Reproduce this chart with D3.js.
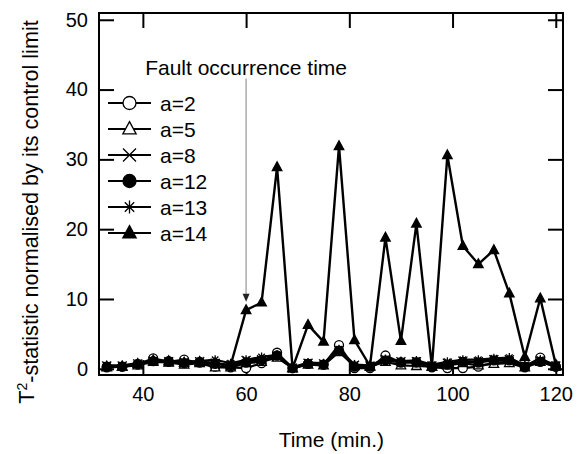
<!DOCTYPE html>
<html>
<head>
<meta charset="utf-8">
<script src="https://cdn.jsdelivr.net/npm/d3@7"></script>
<style>
    body { margin: 0; background: #fff; }
    text { font-family: "Liberation Sans", Arial, Helvetica, sans-serif; fill: #000; }
</style>
</head>
<body>
<svg id="chart" width="582" height="454"></svg>
<script>
// sampling times (min.)
const times = [33, 36, 39, 42, 45, 48, 51, 54, 57, 60, 63, 66, 69, 72, 75,
    78, 81, 84, 87, 90, 93, 96, 99, 102, 105, 108, 111, 114, 117, 120];

// T2 normalised by control limit, one array per number of components
const a2 = [0.2, 0.3, 0.6, 1.5, 1.0, 1.3, 0.9, 0.3, 0.2, 0.1, 0.8, 2.3, 0.1, 0.7, 0.6,
    3.4, 0.1, 0.1, 1.9, 0.9, 0.9, 0.2, 0.1, 0.1, 0.3, 0.9, 1.0, 0.3, 1.6, 0.3];
const a5 = [0.2, 0.3, 0.5, 1.0, 0.9, 0.6, 0.8, 0.2, 0.2, 0.8, 1.0, 1.6, 0.1, 0.6, 0.5,
    2.4, 0.4, 0.3, 1.0, 0.5, 0.4, 0.3, 0.5, 0.8, 0.5, 0.7, 0.8, 0.2, 1.0, 0.3];
const a8 = [0.4, 0.4, 0.7, 1.1, 1.0, 0.9, 1.0, 0.8, 0.5, 1.2, 1.3, 1.8, 0.1, 0.8, 0.7,
    2.6, 0.5, 0.4, 1.3, 1.0, 1.0, 0.4, 0.8, 1.1, 1.0, 1.3, 1.3, 0.4, 1.1, 0.4];
const a12 = [0.3, 0.3, 0.7, 1.1, 1.1, 0.8, 1.0, 0.7, 0.4, 0.9, 1.2, 1.9, 0.1, 0.7, 0.6,
    2.6, 0.3, 0.3, 1.2, 0.9, 0.9, 0.3, 0.6, 1.0, 0.9, 1.2, 1.2, 0.2, 1.0, 0.3];
const a13 = [0.5, 0.5, 0.8, 1.2, 1.1, 1.0, 1.1, 1.3, 0.8, 1.3, 1.7, 2.0, 0.2, 0.9, 0.8,
    2.8, 0.6, 0.5, 1.4, 1.1, 1.2, 0.6, 1.0, 1.3, 1.3, 1.5, 1.6, 0.5, 1.3, 0.6];
const a14 = [0.3, 0.3, 0.7, 1.2, 1.1, 0.9, 1.0, 0.8, 0.5, 8.4, 9.5, 28.9, 0.1, 6.3, 3.9,
    31.9, 4.1, 0.4, 18.8, 4.0, 20.8, 0.3, 30.6, 17.6, 15.0, 17.0, 10.8, 1.7, 10.1, 0.6];

const seriesNames = ['a=2', 'a=5', 'a=8', 'a=12', 'a=13', 'a=14'];
const seriesValues = [a2, a5, a8, a12, a13, a14];
const seriesMarkers = ['circle', 'triangle', 'times', 'dot', 'asterisk', 'filledTriangle'];

const xTicks = [40, 60, 80, 100, 120];
const yTicks = [0, 10, 20, 30, 40, 50];

const faultTime = 60;
const faultLabel = 'Fault occurrence time';

const margin = { top: 13, left: 99, bottom: 79, right: 19 };
const width = 582;
const height = 454;
const chartWidth = width - margin.left - margin.right;
const chartHeight = height - margin.top - margin.bottom;

const svg = d3.select('#chart');

const x = d3.scaleLinear()
    .domain([31.5, 121.4])
    .range([0, chartWidth]);

const y = d3.scaleLinear()
    .domain([-0.89, 50.97])
    .range([chartHeight, 0]);

const g = svg.append('g')
    .attr('transform', `translate(${[margin.left, margin.top]})`);

// marker path builders, r = half size
function markerPath(type, r) {
    const p = d3.path();
    switch (type) {
    case 'circle':
    case 'dot':
        p.arc(0, 0, r, 0, 2 * Math.PI);
        break;
    case 'triangle':
    case 'filledTriangle':
        p.moveTo(0, -r * 1.05);
        p.lineTo(r * 0.95, r * 0.7);
        p.lineTo(-r * 0.95, r * 0.7);
        p.closePath();
        break;
    case 'times':
        p.moveTo(-r, -r); p.lineTo(r, r);
        p.moveTo(-r, r); p.lineTo(r, -r);
        break;
    default: // asterisk: plus and times
        p.moveTo(-r, 0); p.lineTo(r, 0);
        p.moveTo(0, -r); p.lineTo(0, r);
        p.moveTo(-r * 0.72, -r * 0.72); p.lineTo(r * 0.72, r * 0.72);
        p.moveTo(-r * 0.72, r * 0.72); p.lineTo(r * 0.72, -r * 0.72);
    }
    return p.toString();
}

function markerFill(type) {
    if (type === 'dot' || type === 'filledTriangle') return '#000';
    if (type === 'times' || type === 'asterisk') return 'none';
    return '#fff';
}

// axes with inward ticks on all sides
const xAxe = d3.axisBottom(x)
    .tickValues(xTicks)
    .tickSizeInner(-15)
    .tickSizeOuter(0)
    .tickPadding(12);

const yAxe = d3.axisLeft(y)
    .tickValues(yTicks)
    .tickSizeInner(-15)
    .tickSizeOuter(0)
    .tickPadding(11);

function styleAxe(sel) {
    sel.select('.domain').remove();
    sel.selectAll('line').attr('stroke', '#000').attr('stroke-width', 2);
    sel.selectAll('text')
        .style('font-size', '20px')
        .style('font-family', '"Liberation Sans", Arial, sans-serif');
}

g.append('g')
    .attr('transform', `translate(0, ${chartHeight})`)
    .call(xAxe)
    .call(styleAxe);

g.append('g')
    .call(yAxe)
    .call(styleAxe);

g.append('g')
    .call(d3.axisTop(x).tickValues(xTicks).tickSizeInner(-15).tickSizeOuter(0).tickFormat(''))
    .call(styleAxe);

g.append('g')
    .attr('transform', `translate(${chartWidth}, 0)`)
    .call(d3.axisRight(y).tickValues(yTicks).tickSizeInner(-15).tickSizeOuter(0).tickFormat(''))
    .call(styleAxe);

// clipped plotting area
svg.append('defs').append('clipPath')
    .attr('id', 'plot-clip')
    .append('rect')
    .attr('width', chartWidth)
    .attr('height', chartHeight);

const plot = g.append('g').attr('clip-path', 'url(#plot-clip)');

const line = d3.line()
    .x((d, i) => x(times[i]))
    .y(d => y(d));

seriesValues.forEach((values, si) => {
    const type = seriesMarkers[si];
    plot.append('path')
        .datum(values)
        .attr('fill', 'none')
        .attr('stroke', '#000')
        .attr('stroke-width', si === 5 ? 2.4 : 2.2)
        .attr('stroke-linejoin', 'round')
        .attr('d', line);

    plot.selectAll(null)
        .data(values)
        .enter()
        .append('path')
        .attr('transform', (d, i) => `translate(${[x(times[i]), y(d)]})`)
        .attr('d', markerPath(type, type.includes('riangle') ? 5 : 4.5))
        .attr('fill', markerFill(type))
        .attr('stroke', '#000')
        .attr('stroke-width', 1.3);
});

// fault occurrence annotation
const fx = x(faultTime);
g.append('line')
    .attr('x1', fx)
    .attr('x2', fx)
    .attr('y1', y(41.6))
    .attr('y2', y(10.2))
    .attr('stroke', '#aaa')
    .attr('stroke-width', 1.5);

g.append('path')
    .attr('transform', `translate(${[fx, y(9.6)]})`)
    .attr('d', 'M0,0L-3.5,-8L3.5,-8Z')
    .attr('fill', '#222');

g.append('text')
    .attr('x', fx)
    .attr('y', y(42.1))
    .attr('text-anchor', 'middle')
    .style('font-size', '21px')
    .text(faultLabel);

// frame
g.append('rect')
    .attr('width', chartWidth)
    .attr('height', chartHeight)
    .attr('fill', 'none')
    .attr('stroke', '#000')
    .attr('stroke-width', 2);

// legend
const legend = g.append('g')
    .attr('transform', 'translate(9, 90)');

seriesNames.forEach((name, i) => {
    const type = seriesMarkers[i];
    const row = legend.append('g')
        .attr('transform', `translate(0, ${i * 26})`);
    row.append('line')
        .attr('x1', 0)
        .attr('x2', 43)
        .attr('stroke', '#000')
        .attr('stroke-width', 2);
    row.append('path')
        .attr('transform', 'translate(21.5, 0)')
        .attr('d', markerPath(type, type.includes('riangle') ? 7 : 6.5))
        .attr('fill', markerFill(type))
        .attr('stroke', '#000')
        .attr('stroke-width', 1.3);
    row.append('text')
        .attr('x', 52)
        .attr('dy', '0.36em')
        .style('font-size', '21px')
        .text(name);
});

// axis titles
svg.append('text')
    .attr('x', margin.left + x(80) - 18)
    .attr('y', 447)
    .attr('text-anchor', 'middle')
    .style('font-size', '21px')
    .text('Time (min.)');

const yTitle = svg.append('text')
    .attr('transform', `translate(34, ${margin.top + chartHeight / 2 + 18}) rotate(-90)`)
    .attr('text-anchor', 'middle')
    .style('font-size', '21.6px');
yTitle.append('tspan').text('T');
yTitle.append('tspan').attr('dy', '-0.5em').style('font-size', '14px').text('2');
yTitle.append('tspan').attr('dy', '0.5em').text('-statistic normalised by its control limit');
</script>
</body>
</html>
